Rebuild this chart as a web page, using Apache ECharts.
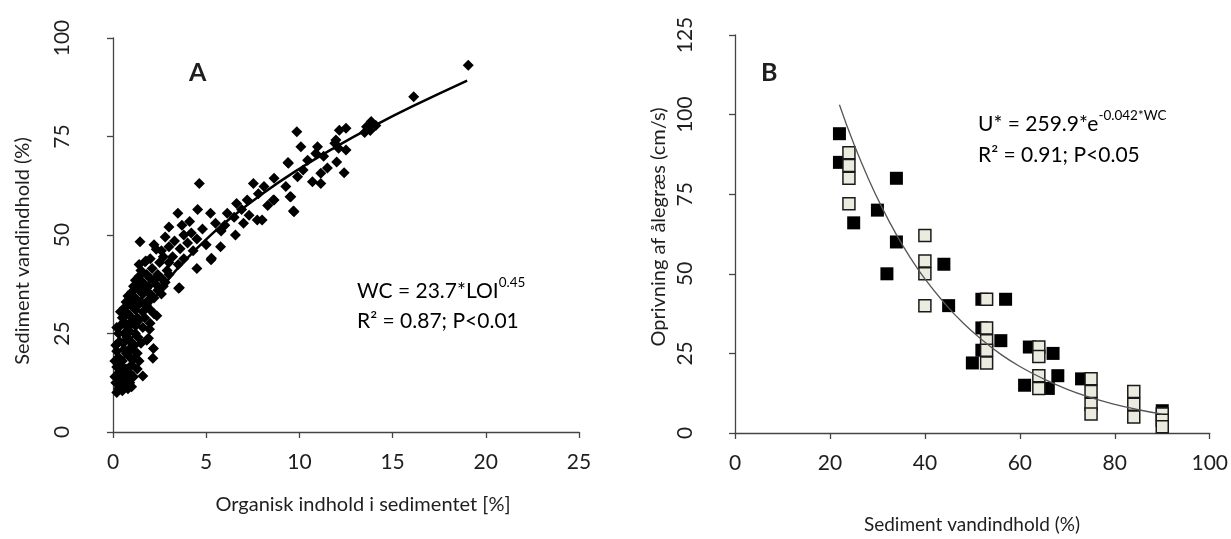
<!DOCTYPE html>
<html>
<head>
<meta charset="utf-8">
<script src="https://cdn.jsdelivr.net/npm/echarts@6/dist/echarts.min.js"></script>
<style>
  html, body { margin: 0; padding: 0; background: #fff; }
  #main { width: 1231px; height: 539px; }
</style>
</head>
<body>
<div id="main"></div>
<script>
// Panel A: organic content (LOI, %) vs sediment water content (%)
var pointsA = [
  [0.2,10],[0.3,11],[0.5,10.5],[0.6,12],[0.8,11],[1.0,11.5],[0.4,13],[0.15,12.5],[0.7,13.5],[0.9,12.5],
  [0.1,14],[0.3,15],[0.5,14.5],[0.7,16],[0.9,15],[1.1,14],[0.2,16.5],[0.4,17],[0.6,15.5],[1.3,16],[1.6,14.2],[1.0,17],
  [0.1,18],[0.3,19],[0.5,18],[0.7,20],[0.9,19],[1.1,18.5],[1.3,20],[0.2,20.5],[0.6,21],[1.0,21],[1.4,18],[2.14,18.7],[2.17,21.2],
  [0.15,22],[0.35,23],[0.55,22.5],[0.75,24],[0.95,23],[1.15,22],[1.35,24],[1.5,22.5],[0.3,25],[0.6,25],[0.9,25.5],[1.2,25],[1.81,23.3],[1.9,23.8],
  [0.2,26.5],[0.4,27],[0.6,28],[0.8,26.5],[1.0,28],[1.2,27],[1.4,28.5],[1.6,26.5],[1.96,26.1],[1.99,27.6],[0.5,29],[0.9,29.5],[1.3,29],[1.7,29],
  [0.4,30.5],[0.6,31.5],[0.8,30],[1.0,32],[1.2,31],[1.4,32.5],[1.6,30.5],[1.8,32],[2.0,31],[2.2,30],[0.7,33],[1.1,33.5],[1.5,33],[1.9,33.5],[2.35,29.5],
  [0.8,34.5],[1.0,35.5],[1.2,34],[1.4,36],[1.6,35],[1.8,36.5],[2.0,35],[2.2,34],[2.4,36],[2.6,35],[1.1,37],[1.5,37.5],[1.9,37],[2.3,37.5],[2.7,37],
  [1.2,38.5],[1.4,39.5],[1.6,38],[1.8,40],[2.0,39],[2.2,38.5],[2.4,40],[2.6,39],[2.8,38],[3.0,40],[1.5,41],[2.1,41.5],[2.9,41],[3.52,36.5],[3.56,36.6],
  [1.4,42.5],[1.72,43.2],[1.76,43.4],[2.0,44],[2.32,46.4],[2.5,43],[2.7,44.5],[3.0,43],[3.2,44.5],[3.5,42.5],[3.8,44],[4.5,41.5],[5.26,43.7],[5.28,44.1],
  [1.45,48.3],[2.2,47.5],[2.6,46],[3.0,47],[3.3,48.5],[3.6,46.5],[4.0,48],[4.3,46],[2.8,49.5],[3.8,50],[4.5,49],[5.0,47.5],[5.77,47],[6.57,50],[4.8,51.5],
  [3.0,52],[3.48,55.5],[4.11,53.4],[3.7,52.5],[4.2,50.5],[4.54,56.5],[5.23,55.5],[5.5,53],[6.0,52.5],[6.13,55.5],[5.8,51],[7.74,53.8],[7.0,53],[6.5,54.5],[8.0,53.8],[7.3,55],
  [4.63,63.1],[6.63,58],[7.2,58.9],[8.6,58.9],[9.5,59.7],[9.68,56.1],[9.71,55.9],[8.64,58.9],[9.54,59.7],[7.53,63.1],[8.1,62.3],[9.27,62.3],[7.8,60.5],[8.3,57.5],[6.9,56.5],
  [8.64,64.4],[9.41,68.2],[9.9,64.8],[10.7,63.5],[11.15,63.1],[11.15,65.7],[12.4,65.8],[9.39,68.4],[10.44,69],[10.88,70.7],[11.5,67],[10.2,66.5],[12.0,68.5],
  [10.97,72.4],[10.08,72.4],[9.86,76.2],[11.96,74.1],[11.9,73.3],[12.1,72],[12.5,71.6],[12.14,76.6],[12.5,77.1],[13.5,76],[13.85,78.8],[13.6,77.5],[14.1,77.8],[13.8,76.5],[11.3,70],
  [16.13,85.1],[19.06,93.1]
];
var fitA = [[0.3,13.8],[0.5,17.4],[0.75,20.7],[1,23.7],[1.5,28.4],[2,32.4],[3,38.9],[4,44.2],[5,48.9],[6,53.1],[8,60.4],[10,66.8],[12,72.5],[14,77.7],[16,82.5],[19,89.2]];
var ticksA_x = [0, 25, 5];
var ticksA_y = [0, 100, 25];

// Panel B: water content (%) vs erosion threshold (cm/s)
var blackB = [
  [22,85],[22,94],[25,66],[30,70],[32,50],[34,80],[34,60],[44,53],[45,40],
  [50,22],[52,26],[52,33],[52,42],[57,42],[56,29],[61,15],[62,27],[66,14],[67,25],[68,18],[73,17],[90,7]
];
var lightB = [
  [24,88],[24,84],[24,80],[24,72],[40,62],[40,54],[40,50],[40,40],
  [53,42],[53,33],[53,29],[53,26],[53,22],[64,27],[64,24],[64,18],[64,14],
  [75,17],[75,13],[75,9],[75,6],[84,13],[84,9],[84,5],[90,6],[90,4],[90,2]
];
var fitB = [[22,103.1],[25,90.9],[28,80.2],[31,70.7],[34,62.3],[37,54.9],[40,48.4],[44,41.0],[48,34.6],[52,29.3],[56,24.7],[60,20.9],[65,17.0],[70,13.7],[75,11.1],[80,9.0],[85,7.3],[90,5.9]];
var ticksB_x = [0, 100, 20];
var ticksB_y = [0, 125, 25];

var font = 'Lato';
var txt = '#1e1e1e';
var axisCol = '#444';

function xAx(idx, t) {
  return {
    type: 'value', gridIndex: idx, min: t[0], max: t[1], interval: t[2],
    axisLine: { lineStyle: { color: axisCol, width: 1.3 } },
    axisTick: { length: 6, lineStyle: { color: axisCol, width: 1.3 } },
    axisLabel: { fontFamily: font, fontSize: 21, color: txt, margin: 20 },
    splitLine: { show: false }
  };
}
function yAx(idx, t, margin) {
  return {
    type: 'value', gridIndex: idx, min: t[0], max: t[1], interval: t[2],
    axisLine: { show: true, lineStyle: { color: axisCol, width: 1.3 } },
    axisTick: { show: true, length: 6, lineStyle: { color: axisCol, width: 1.3 } },
    axisLabel: { fontFamily: font, fontSize: 21, color: txt, rotate: 90, margin: margin },
    splitLine: { show: false }
  };
}
function label(text, x, y, size, rot) {
  return {
    type: 'text', x: x, y: y, rotation: rot ? Math.PI / 2 : 0,
    style: { text: text, fontFamily: font, fontSize: size, fill: txt, align: 'center', verticalAlign: 'middle' }
  };
}

var myChart = echarts.init(document.getElementById('main'));
var option = {
  backgroundColor: '#fff',
  animation: false,
  grid: [
    { left: 113, top: 38, width: 466, height: 394 },
    { left: 735, top: 35, width: 477, height: 398 }
  ],
  xAxis: [xAx(0, ticksA_x), xAx(1, ticksB_x)],
  yAxis: [yAx(0, ticksA_y, 40), yAx(1, ticksB_y, 39)],
  graphic: [
    label('Organisk indhold i sedimentet [%]', 363, 505, 20, false),
    label('Sediment vandindhold (%)', 972, 525, 19, false),
    label('Sediment vandindhold (%)', 23, 251, 20, true),
    label('Oprivning af ålegræs (cm/s)', 659, 227, 20, true),
    { type: 'text', left: 189, top: 60, style: { text: 'A', font: 'bold 25px Lato', fill: txt } },
    { type: 'text', left: 761, top: 60, style: { text: 'B', font: 'bold 25px Lato', fill: txt } },
    { type: 'text', left: 357, top: 276, style: {
        text: '{m|WC = 23.7*LOI}{s|0.45}\n{m|R² = 0.87; P<0.01}',
        rich: {
          m: { fontFamily: font, fontSize: 21, lineHeight: 30, color: txt },
          s: { fontFamily: font, fontSize: 13.5, lineHeight: 14, verticalAlign: 'top', color: txt }
        } } },
    { type: 'text', left: 978, top: 109, style: {
        text: '{m|U* = 259.9*e}{s|-0.042*WC}\n{m|R² = 0.91; P<0.05}',
        rich: {
          m: { fontFamily: font, fontSize: 21, lineHeight: 31, color: txt },
          s: { fontFamily: font, fontSize: 13.5, lineHeight: 14, verticalAlign: 'top', color: txt }
        } } }
  ],
  series: [
    {
      type: 'scatter', xAxisIndex: 0, yAxisIndex: 0, data: pointsA,
      symbol: 'diamond', symbolSize: 11,
      itemStyle: { color: '#000', opacity: 1 }
    },
    {
      type: 'line', xAxisIndex: 0, yAxisIndex: 0, data: fitA,
      smooth: true, showSymbol: false, z: 3,
      lineStyle: { color: '#000', width: 2.5 }
    },
    {
      type: 'scatter', xAxisIndex: 1, yAxisIndex: 1, data: blackB,
      symbol: 'rect', symbolSize: 13,
      itemStyle: { color: '#000', opacity: 1 }
    },
    {
      type: 'scatter', xAxisIndex: 1, yAxisIndex: 1, data: lightB,
      symbol: 'rect', symbolSize: 12,
      itemStyle: { color: '#ecebe0', borderColor: '#1a1a1a', borderWidth: 1.5, opacity: 1 }
    },
    {
      type: 'line', xAxisIndex: 1, yAxisIndex: 1, data: fitB,
      smooth: true, showSymbol: false, z: 4,
      lineStyle: { color: '#555', width: 1.3 }
    }
  ]
};
myChart.setOption(option);
</script>
</body>
</html>
